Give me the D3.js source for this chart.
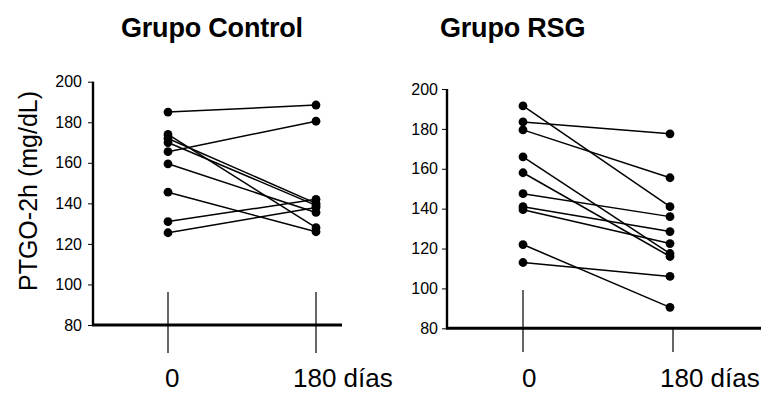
<!DOCTYPE html>
<html>
<head>
<meta charset="utf-8">
<script src="https://cdn.jsdelivr.net/npm/d3@7"></script>
<style>
  body { margin: 0; background: #fff; }
  svg { display: block; font-family: "Liberation Sans", Arial, Helvetica, sans-serif; }
</style>
</head>
<body>
<div id="chart"></div>
<script>
// values (PTGO-2h, mg/dL)
const days = ['0', '180 días'];
const yTicks = [80, 100, 120, 140, 160, 180, 200];
const yLabel = 'PTGO-2h (mg/dL)';

const controlTitle = 'Grupo Control';
const controlDay0 = [185, 174, 172, 170, 165.5, 159.5, 145.5, 131, 125.5];
const controlDay180 = [188.5, 128, 140, 139, 180.5, 135.5, 126, 142, 138];

const rsgTitle = 'Grupo RSG';
const rsgDay0 = [191.5, 183.5, 179.5, 166, 158, 147.5, 141, 139.5, 122, 113];
const rsgDay180 = [141, 177.5, 155.5, 117.5, 116, 136, 128.5, 122.5, 90.5, 106];

const width = 761;
const height = 399;

const svg = d3.select('#chart')
  .append('svg')
  .attr('width', width)
  .attr('height', height);

// panel layout (pixels)
const panels = [
  {
    title: controlTitle, titleX: 121, d0: controlDay0, d180: controlDay180,
    axisX: 93, yTop: 81.7, yBottom: 325, xLineEnd: 342,
    x0: 168, x180: 316, tick180Top: 292, tick0Top: 292, tickBottom: 353,
    labelShift: [-3, -23], labelGap: 6
  },
  {
    title: rsgTitle, titleX: 440, d0: rsgDay0, d180: rsgDay180,
    axisX: 447, yTop: 89, yBottom: 328.3, xLineEnd: 761,
    x0: 523, x180: 670, tick180Top: 327, tick0Top: 290, tickBottom: 352,
    tick180X: 673, labelShift: [-1, -13], labelGap: 4
  }
];

panels.forEach(p => drawPanel(p));

// y axis title on the left panel only
svg.append('text')
  .attr('transform', `translate(37,${191}) rotate(-90)`)
  .attr('text-anchor', 'middle')
  .style('font-size', '25px')
  .style('fill', '#000')
  .text(yLabel);

function drawPanel(p) {
  const g = svg.append('g');

  const y = d3.scaleLinear()
    .domain([80, 200])
    .range([p.yBottom, p.yTop]);

  const x = d3.scalePoint()
    .domain(days)
    .range([p.x0, p.x180]);

  // title
  g.append('text')
    .attr('x', p.titleX)
    .attr('y', 37)
    .style('font-size', '27px')
    .style('font-weight', 'bold')
    .style('letter-spacing', '-0.2px')
    .style('fill', '#000')
    .text(p.title);

  // y axis
  const yAxis = g.append('g')
    .attr('transform', `translate(${p.axisX},0)`)
    .call(d3.axisLeft(y).tickValues(yTicks).tickSize(5).tickPadding(p.labelGap));

  yAxis.select('.domain')
    .attr('d', `M0,${p.yTop}V${p.yBottom}`)
    .attr('stroke', '#000')
    .attr('stroke-width', 2.4);

  yAxis.selectAll('.tick line')
    .attr('stroke', '#000')
    .attr('stroke-width', 1);

  yAxis.selectAll('.tick text')
    .style('font-size', '16px')
    .style('font-family', '"Liberation Sans", Arial, sans-serif')
    .attr('fill', '#000');

  // x baseline
  g.append('line')
    .attr('x1', p.axisX - 1)
    .attr('x2', p.xLineEnd)
    .attr('y1', p.yBottom)
    .attr('y2', p.yBottom)
    .attr('stroke', '#000')
    .attr('stroke-width', 3);

  // category marker lines
  days.forEach((d, i) => {
    const cx = i === 1 && p.tick180X ? p.tick180X : x(d);
    g.append('line')
      .attr('x1', cx)
      .attr('x2', cx)
      .attr('y1', i === 0 ? p.tick0Top : p.tick180Top)
      .attr('y2', p.tickBottom)
      .attr('stroke', '#000')
      .attr('stroke-width', 1.2);

    g.append('text')
      .attr('x', cx + p.labelShift[i])
      .attr('y', 387)
      .style('font-size', '26px')
      .style('fill', '#000')
      .text(d);
  });

  // paired lines
  const pairs = p.d0.map((v, i) => [v, p.d180[i]]);

  g.selectAll('.pair')
    .data(pairs)
    .enter()
    .append('line')
    .attr('class', 'pair')
    .attr('x1', x(days[0]))
    .attr('x2', x(days[1]))
    .attr('y1', d => y(d[0]))
    .attr('y2', d => y(d[1]))
    .attr('stroke', '#000')
    .attr('stroke-width', 1.5);

  // dots
  const pts = [];
  pairs.forEach(d => {
    pts.push({ day: days[0], v: d[0] });
    pts.push({ day: days[1], v: d[1] });
  });

  g.selectAll('.dot')
    .data(pts)
    .enter()
    .append('circle')
    .attr('class', 'dot')
    .attr('cx', d => x(d.day))
    .attr('cy', d => y(d.v))
    .attr('r', 4.4)
    .attr('fill', '#000');
}
</script>
</body>
</html>
